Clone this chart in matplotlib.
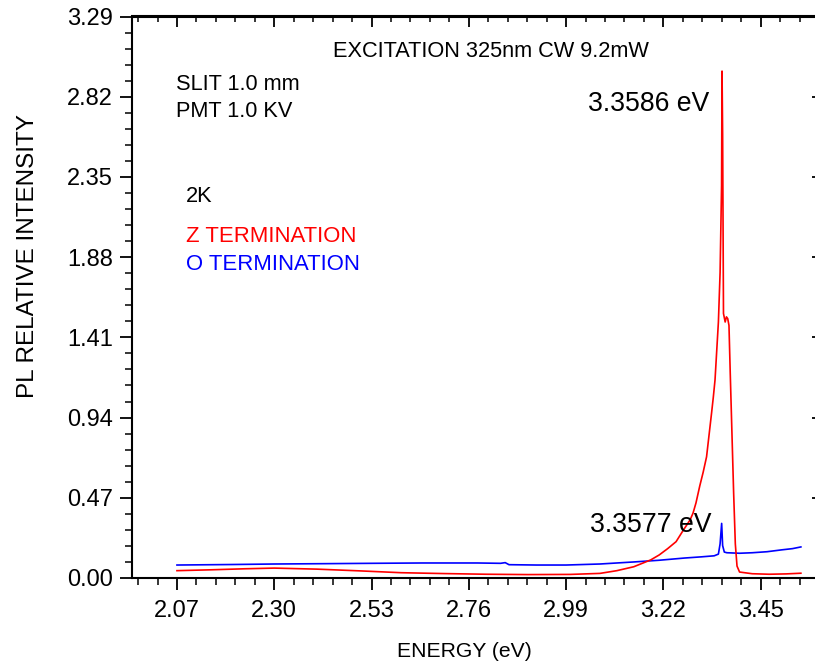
import numpy as np
import matplotlib
matplotlib.use("Agg")
import matplotlib.pyplot as plt
from matplotlib.ticker import FixedLocator, MultipleLocator

plt.rcParams["font.family"] = ["Liberation Sans", "DejaVu Sans"]

# Z termination spectrum (red)
z_energy = [2.07, 2.15, 2.23, 2.30, 2.40, 2.50, 2.60, 2.70, 2.80, 2.90, 3.00,
            3.07, 3.11, 3.15, 3.19, 3.21, 3.23, 3.25, 3.267, 3.283, 3.29, 3.297,
            3.306, 3.314, 3.322, 3.328, 3.334, 3.338, 3.342, 3.346, 3.350, 3.354,
            3.3575, 3.3586, 3.3600, 3.3620, 3.366, 3.369, 3.372, 3.375, 3.378,
            3.382, 3.386, 3.390, 3.394, 3.400, 3.43, 3.47, 3.51, 3.545]
z_int = [0.043, 0.048, 0.054, 0.058, 0.052, 0.042, 0.031, 0.026, 0.022, 0.020, 0.021,
         0.027, 0.043, 0.066, 0.106, 0.135, 0.172, 0.213, 0.28, 0.34, 0.38, 0.44,
         0.54, 0.62, 0.71, 0.84, 0.97, 1.06, 1.16, 1.33, 1.50, 1.79,
         2.30, 2.97, 2.60, 1.55, 1.50, 1.53, 1.52, 1.48, 1.20,
         0.85, 0.50, 0.20, 0.07, 0.035, 0.025, 0.022, 0.024, 0.028]

# O termination spectrum (blue)
o_energy = [2.07, 2.20, 2.30, 2.42, 2.53, 2.65, 2.78, 2.835, 2.846, 2.855, 2.92, 2.99,
            3.07, 3.15, 3.21, 3.27, 3.31, 3.34, 3.350, 3.354, 3.3577, 3.360, 3.364,
            3.37, 3.40, 3.43, 3.465, 3.50, 3.525, 3.545]
o_int = [0.076, 0.079, 0.082, 0.084, 0.086, 0.088, 0.088, 0.086, 0.090, 0.078, 0.076, 0.076,
         0.082, 0.094, 0.104, 0.117, 0.124, 0.130, 0.140, 0.20, 0.32, 0.19, 0.152,
         0.148, 0.145, 0.148, 0.154, 0.165, 0.172, 0.182]

x_ticks = [2.07, 2.30, 2.53, 2.76, 2.99, 3.22, 3.45]
y_ticks = [0.00, 0.47, 0.94, 1.41, 1.88, 2.35, 2.82, 3.29]

W, H = 815, 664
fig = plt.figure(figsize=(W / 100, H / 100), dpi=100)

# axes box in pixels
left_px, right_px, top_px, bottom_px = 131.7, 818.0, 16.5, 578.0
ax = fig.add_axes([left_px / W, 1 - bottom_px / H,
                   (right_px - left_px) / W, (bottom_px - top_px) / H])

ax.plot(o_energy, o_int, color="#0000ff", lw=1.2)
ax.plot(z_energy, z_int, color="#ff0000", lw=1.2)

ax.set_xlim(1.963, 1.963 + (right_px - left_px) / 423.0)
ax.set_ylim(0, 3.29)

for s in ax.spines.values():
    s.set_linewidth(1.5)

ax.xaxis.set_major_locator(FixedLocator(x_ticks))
ax.xaxis.set_minor_locator(MultipleLocator(0.046))
ax.yaxis.set_major_locator(FixedLocator(y_ticks))
ax.yaxis.set_minor_locator(MultipleLocator(0.094))
ax.set_xticklabels([f"{v:.2f}" for v in x_ticks])
ax.set_yticklabels([f"{v:.2f}" for v in y_ticks])

ax.tick_params(which="major", direction="out", length=8.6, width=1.3,
               labelsize=17, top=False, right=False)
ax.tick_params(which="minor", direction="out", length=5, width=1.1,
               top=False, right=False)
ax.tick_params(axis="x", which="major", pad=7)
ax.tick_params(axis="y", which="major", pad=5)

# top axis: inward ticks, no labels
top = ax.secondary_xaxis("top")
top.xaxis.set_major_locator(FixedLocator(x_ticks))
top.xaxis.set_minor_locator(MultipleLocator(0.046))
top.tick_params(which="major", direction="in", length=8, width=1.3, labeltop=False)
top.tick_params(which="minor", direction="in", length=4.5, width=1.1)
top.spines["top"].set_linewidth(1.5)

# right axis: short inward major ticks only
rt = ax.secondary_yaxis("right")
rt.yaxis.set_major_locator(FixedLocator(y_ticks))
rt.yaxis.set_minor_locator(FixedLocator([]))
rt.tick_params(which="major", direction="in", length=4.5, width=1.3, labelright=False)
rt.spines["right"].set_linewidth(1.5)


def fx(px):
    return px / W


def fy(py):
    return 1 - py / H


fig.text(fx(333), fy(57), "EXCITATION 325nm CW 9.2mW", fontsize=15.7, va="baseline")
fig.text(fx(176), fy(90), "SLIT 1.0 mm", fontsize=15.7, va="baseline")
fig.text(fx(176), fy(117), "PMT 1.0 KV", fontsize=15.7, va="baseline")
fig.text(fx(186), fy(202), "2K", fontsize=15.7, va="baseline")
fig.text(fx(186), fy(242), "Z TERMINATION", fontsize=15.9, va="baseline", color="#ff0000")
fig.text(fx(186), fy(270), "O TERMINATION", fontsize=15.9, va="baseline", color="#0000ff")
fig.text(fx(588), fy(111), "3.3586 eV", fontsize=19.2, va="baseline")
fig.text(fx(590), fy(532), "3.3577 eV", fontsize=19.2, va="baseline")

fig.text(fx(464), fy(657), "ENERGY (eV)", fontsize=15.2, ha="center", va="baseline")
fig.text(fx(28), fy(256), "PL RELATIVE INTENSITY", fontsize=17.5, rotation=90,
         ha="center", va="center")

fig.savefig("out.png", dpi=100)
